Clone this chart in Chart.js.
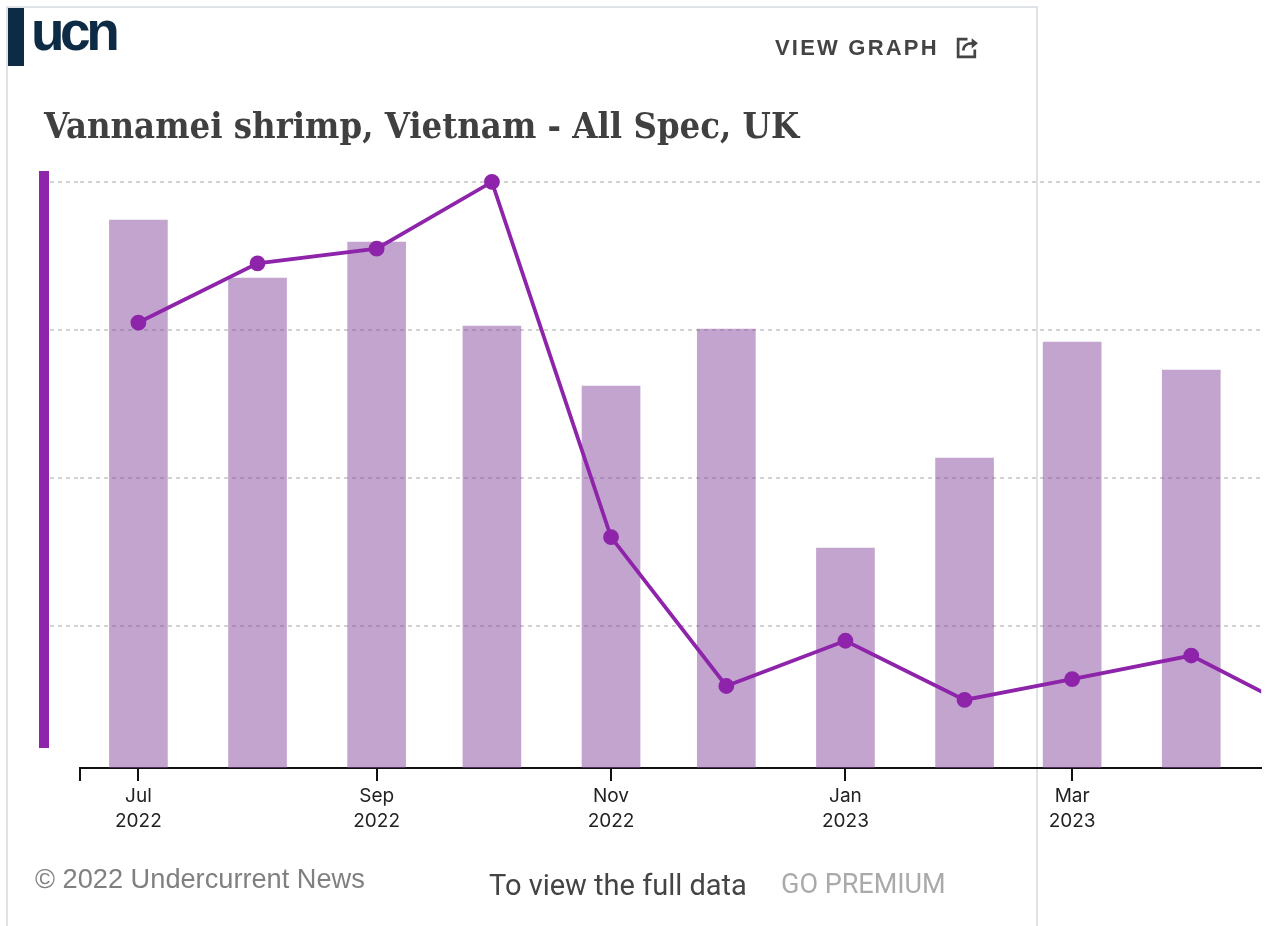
<!DOCTYPE html>
<html>
<head>
<meta charset="utf-8">
<title>Vannamei shrimp, Vietnam - All Spec, UK</title>
<script src="https://cdn.jsdelivr.net/npm/chart.js@4"></script>
<style>
    body { margin: 0; background: #fff; overflow: hidden; width: 1271px; height: 926px; position: relative; }
    #card { position: absolute; left: 6px; top: 6px; width: 1028px; height: 940px; border: 2px solid #dfe3e8; }
    #chart { position: absolute; left: 0; top: 0; }
    .txt { position: absolute; white-space: nowrap; }
    #logo-block { position: absolute; left: 8px; top: 8px; width: 16px; height: 58px; background: #0d2b45; }
    #logo { left: 31px; top: -1px; font: bold 55px "Liberation Sans"; letter-spacing: -4.5px; color: #0d2b45; filter: blur(0.5px); }
    #view { left: 775px; top: 35px; font: bold 22px "Liberation Sans"; letter-spacing: 2.2px; color: #444; }
    #icon { position: absolute; left: 955px; top: 35px; }
    #title { left: 44px; top: 104px; font: bold 36.1px "DejaVu Serif Condensed"; color: #404040; }
    #axis-bar { position: absolute; left: 39px; top: 171px; width: 10px; height: 577px; background: #8e24aa; }
    #copy { left: 35px; top: 863px; font: 27.2px "Liberation Sans"; color: #808080; }
    #full { left: 489px; top: 868px; font: 29px Roboto; color: #444; }
    #premium { left: 781px; top: 868px; font: 27px Roboto; color: #aaa; }
</style>
</head>
<body>
<div id="card"></div>
<canvas id="chart" width="1271" height="926"></canvas>
<div id="logo-block"></div>
<div class="txt" id="logo">ucn</div>
<div class="txt" id="view">VIEW GRAPH</div>
<svg id="icon" width="25" height="25" viewBox="0 0 24 24" fill="none" stroke="#444" stroke-width="2.6">
    <path d="M12 4H3v17h16v-7"/>
    <path d="M8 15c0-5 4-7 8-7h3"/>
    <path d="M16 3l6 5-6 5z" fill="#444" stroke="none"/>
</svg>
<div class="txt" id="title">Vannamei shrimp, Vietnam - All Spec, UK</div>
<div id="axis-bar"></div>
<div class="txt" id="copy">© 2022 Undercurrent News</div>
<div class="txt" id="full">To view the full data</div>
<div class="txt" id="premium">GO PREMIUM</div>

<script>
// days since 1 Jul 2022, one entry per month
const monthDays = [0, 31, 62, 92, 123, 153, 184, 215, 243, 274, 304];
const barValues = [5.48, 4.90, 5.26, 4.42, 3.82, 4.39, 2.20, 3.10, 4.26, 3.98];
const priceValues = [7.525, 7.725, 7.775, 8.00, 6.80, 6.297, 6.45, 6.25, 6.32, 6.40, 6.20];

const tickDays = [0, 62, 123, 184, 243];
const tickLabels = [['Jul', '2022'], ['Sep', '2022'], ['Nov', '2022'], ['Jan', '2023'], ['Mar', '2023']];
const gridPrices = [6.5, 7, 7.5, 8];

const purple = '#8e24aa';

new Chart(document.getElementById('chart').getContext('2d'), {
    type: 'bar',
    data: {
        datasets: [
            {
                type: 'line',
                data: monthDays.map((x, i) => ({ x, y: priceValues[i] })),
                yAxisID: 'yPrice',
                borderColor: purple,
                backgroundColor: purple,
                borderWidth: 3.8,
                pointRadius: 6,
                tension: 0,
                order: 0
            },
            {
                type: 'bar',
                data: barValues.map((y, i) => ({ x: monthDays[i], y })),
                yAxisID: 'yBar',
                backgroundColor: 'rgba(134, 74, 160, 0.5)',
                barThickness: 58,
                order: 1
            }
        ]
    },
    options: {
        responsive: false,
        animation: false,
        layout: { padding: { top: 171, right: 9, left: 0, bottom: 0 } },
        plugins: { legend: { display: false }, tooltip: { enabled: false } },
        scales: {
            x: {
                type: 'linear',
                offset: false,
                min: -15.2,
                max: 292.2,
                afterBuildTicks: (scale) => {
                    scale.ticks = [scale.min, ...tickDays].map(value => ({ value }));
                },
                afterFit: (scale) => { scale.height = 158; },
                border: { color: '#111', width: 2 },
                grid: { offset: false, drawOnChartArea: false, color: '#111', tickColor: '#111', tickLength: 13, lineWidth: 2 },
                ticks: {
                    autoSkip: false,
                    maxRotation: 0,
                    padding: 3,
                    color: '#222',
                    font: { family: 'Inter', size: 19, lineHeight: 1.316 },
                    callback: (value) => {
                        const i = tickDays.indexOf(value);
                        return i >= 0 ? tickLabels[i] : '';
                    }
                }
            },
            yPrice: {
                position: 'left',
                min: 6.02,
                max: 8.037,
                afterBuildTicks: (scale) => {
                    scale.ticks = gridPrices.map(value => ({ value }));
                },
                afterFit: (scale) => { scale.width = 80; },
                border: { display: false, dash: [4, 4] },
                grid: { color: '#d2d2d2', tickColor: '#d2d2d2', tickLength: 30, tickBorderDash: [4, 4], lineWidth: 2 },
                ticks: { display: false }
            },
            yBar: {
                display: false,
                min: 0,
                max: 5.97
            }
        }
    }
});
</script>
</body>
</html>
